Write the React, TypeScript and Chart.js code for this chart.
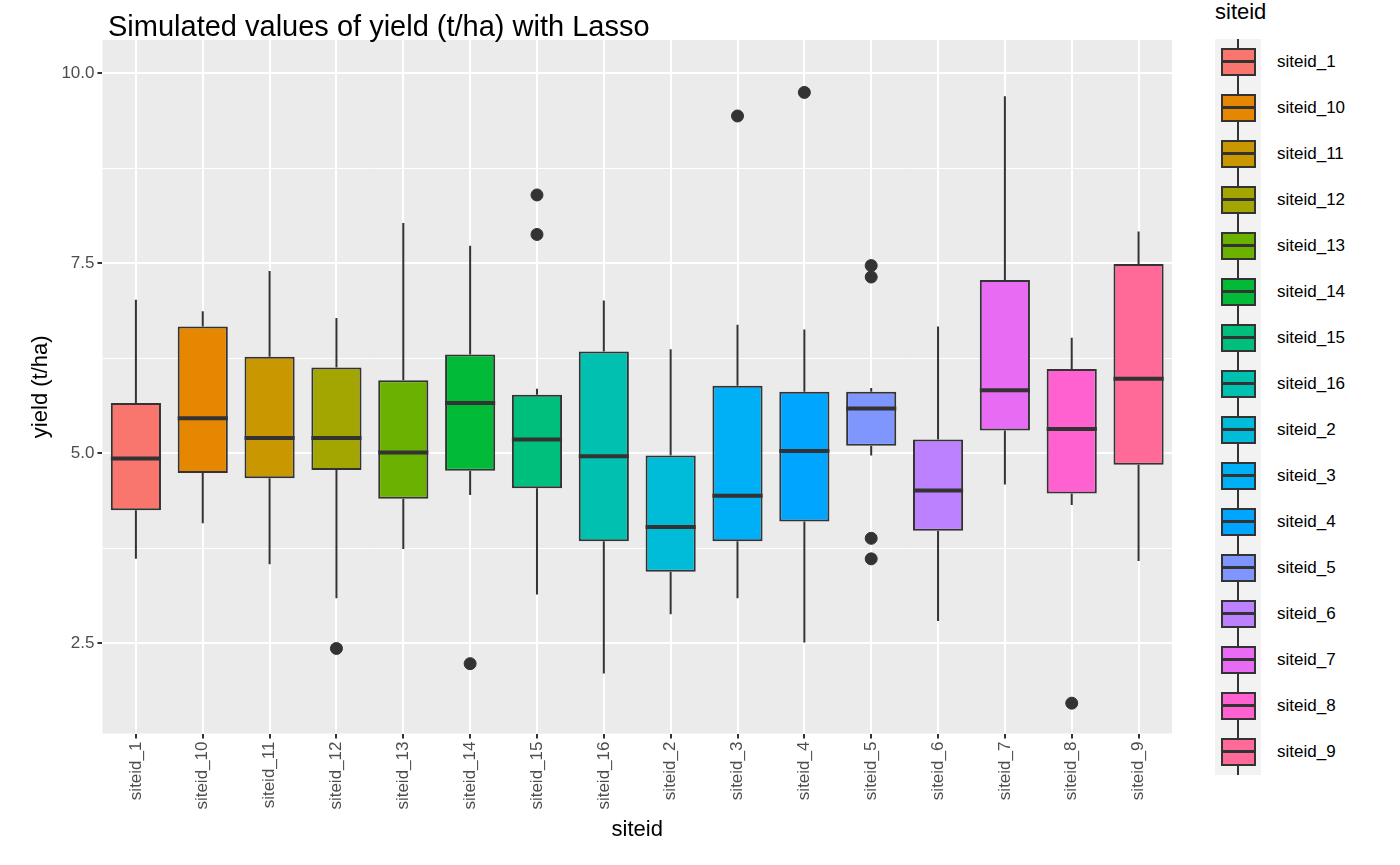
import React, { useEffect, useRef } from "react";
import Chart from "chart.js/auto";

const sites = ["siteid_1","siteid_10","siteid_11","siteid_12","siteid_13","siteid_14","siteid_15","siteid_16","siteid_2","siteid_3","siteid_4","siteid_5","siteid_6","siteid_7","siteid_8","siteid_9"];
const colors = ["#F8766D","#E58700","#C99800","#A3A500","#6BB100","#00BA38","#00BF7D","#00C0AF","#00BCD8","#00B0F6","#00A5FF","#7F96FF","#BC81FF","#E76BF3","#FF61D0","#FF6A98"];
const whiskerLow = [3.61,4.08,3.54,3.09,3.74,4.45,3.14,2.10,2.88,3.09,2.51,4.97,2.79,4.59,4.32,3.58];
const q1 = [4.25,4.74,4.67,4.78,4.40,4.77,4.54,3.84,3.44,3.84,4.10,5.10,3.98,5.30,4.47,4.85];
const median = [4.93,5.46,5.20,5.20,5.01,5.66,5.18,4.96,4.03,4.44,5.03,5.59,4.51,5.83,5.32,5.98];
const q3 = [5.66,6.67,6.27,6.13,5.96,6.30,5.77,6.34,4.97,5.89,5.81,5.81,5.18,7.28,6.11,7.49];
const whiskerHigh = [7.02,6.87,7.40,6.78,8.03,7.73,5.85,7.01,6.37,6.69,6.63,5.86,6.67,9.70,6.52,7.92];
const outliers = [
  { x: "siteid_12", y: 2.43 }, { x: "siteid_14", y: 2.23 },
  { x: "siteid_15", y: 8.40 }, { x: "siteid_15", y: 7.88 },
  { x: "siteid_3", y: 9.44 }, { x: "siteid_4", y: 9.75 },
  { x: "siteid_5", y: 7.47 }, { x: "siteid_5", y: 7.32 },
  { x: "siteid_5", y: 3.88 }, { x: "siteid_5", y: 3.61 },
  { x: "siteid_8", y: 1.71 },
];

const font = "Liberation Sans, Arial, sans-serif";
const isMajor = (v: number) => Math.abs(v / 2.5 - Math.round(v / 2.5)) < 0.01;

const boxPlugin = {
  id: "boxPlugin",
  beforeDraw: (chart: any) => {
    const { ctx, chartArea } = chart;
    ctx.save();
    ctx.fillStyle = "#EBEBEB";
    ctx.fillRect(chartArea.left, chartArea.top, chartArea.right - chartArea.left, chartArea.bottom - chartArea.top);
    ctx.restore();
  },
  beforeDatasetsDraw: (chart: any) => {
    const { ctx, scales } = chart;
    ctx.save();
    ctx.strokeStyle = "#333333";
    ctx.lineWidth = 2;
    sites.forEach((s, i) => {
      const x = scales.x.getPixelForValue(i);
      ctx.beginPath();
      ctx.moveTo(x, scales.y.getPixelForValue(whiskerLow[i]));
      ctx.lineTo(x, scales.y.getPixelForValue(q1[i]));
      ctx.moveTo(x, scales.y.getPixelForValue(q3[i]));
      ctx.lineTo(x, scales.y.getPixelForValue(whiskerHigh[i]));
      ctx.stroke();
    });
    ctx.restore();
  },
  afterDatasetsDraw: (chart: any) => {
    const { ctx, scales } = chart;
    const meta = chart.getDatasetMeta(0);
    ctx.save();
    ctx.strokeStyle = "#333333";
    ctx.lineWidth = 4;
    meta.data.forEach((bar: any, i: number) => {
      const y = scales.y.getPixelForValue(median[i]);
      ctx.beginPath();
      ctx.moveTo(bar.x - bar.width / 2, y);
      ctx.lineTo(bar.x + bar.width / 2, y);
      ctx.stroke();
    });
    ctx.restore();
  },
};

const LegendKey: React.FC<{ color: string }> = ({ color }) => (
  <div style={{ width: 46, height: 46, background: "#F2F2F2", position: "relative" }}>
    <div style={{ position: "absolute", left: 22, top: 0, width: 2, height: 46, background: "#333" }} />
    <div style={{ position: "absolute", left: 6, top: 9, width: 31, height: 24, background: color, border: "2px solid #333" }} />
    <div style={{ position: "absolute", left: 6, top: 21, width: 35, height: 3, background: "#333" }} />
  </div>
);

const App: React.FC = () => {
  const ref = useRef<HTMLCanvasElement | null>(null);
  useEffect(() => {
    document.body.style.margin = "0";
    const ctx = ref.current?.getContext("2d");
    if (!ctx) return;
    const chart = new Chart(ctx, {
      type: "bar",
      data: {
        labels: sites,
        datasets: [
          {
            type: "bar",
            data: sites.map((_, i) => [q1[i], q3[i]]) as any,
            backgroundColor: colors,
            borderColor: "#333333",
            borderWidth: 2,
            borderSkipped: false,
            barPercentage: 0.75,
            categoryPercentage: 1,
          } as any,
          {
            type: "scatter",
            data: outliers as any,
            backgroundColor: "#333333",
            borderColor: "#333333",
            pointRadius: 6,
          } as any,
        ],
      },
      options: {
        animation: false,
        responsive: false,
        layout: { padding: { left: 24, right: 18, top: 40, bottom: 18 } },
        plugins: {
          legend: { display: false },
          tooltip: { enabled: false },
        },
        scales: {
          x: {
            type: "category",
            offset: true,
            grid: { color: "#FFFFFF", lineWidth: 2, offset: false, drawTicks: true, tickColor: "#333", tickLength: 5 },
            border: { display: false },
            ticks: { color: "#4D4D4D", font: { family: font, size: 17 }, minRotation: 90, maxRotation: 90, autoSkip: false },
            title: { display: true, text: "siteid", color: "#000", font: { family: font, size: 22 }, padding: { top: 4 } },
          },
          y: {
            min: 1.31,
            max: 10.44,
            afterBuildTicks: (axis: any) => {
              axis.ticks = [2.5, 3.75, 5, 6.25, 7.5, 8.75, 10].map(v => ({ value: v }));
            },
            grid: {
              color: "#FFFFFF",
              lineWidth: (c: any) => (isMajor(c.tick?.value ?? 0) ? 2 : 1),
              tickColor: (c: any) => (isMajor(c.tick?.value ?? 0) ? "#333" : "rgba(0,0,0,0)"),
              tickLength: 5,
            },
            border: { display: false },
            ticks: {
              color: "#4D4D4D",
              font: { family: font, size: 17 },
              callback: (v: any) => (isMajor(Number(v)) ? Number(v).toFixed(1) : ""),
            },
            title: { display: true, text: "yield (t/ha)", color: "#000", font: { family: font, size: 22 } },
          },
        },
      },
      plugins: [boxPlugin],
    } as any);
    return () => chart.destroy();
  }, []);

  return (
    <div style={{ position: "relative", width: 1400, height: 865, background: "#fff", fontFamily: font }}>
      <canvas ref={ref} width={1190} height={865} style={{ position: "absolute", left: 0, top: 0 }} />
      <div style={{ position: "absolute", left: 108, top: 10, fontSize: 29, color: "#000" }}>
        Simulated values of yield (t/ha) with Lasso
      </div>
      <div style={{ position: "absolute", left: 1215, top: 0 }}>
        <div style={{ fontSize: 22, height: 39, lineHeight: "24px" }}>siteid</div>
        {sites.map((s, i) => (
          <div key={s} style={{ display: "flex", alignItems: "center", height: 46 }}>
            <LegendKey color={colors[i]} />
            <span style={{ fontSize: 17, marginLeft: 16 }}>{s}</span>
          </div>
        ))}
      </div>
    </div>
  );
};

export default App;
